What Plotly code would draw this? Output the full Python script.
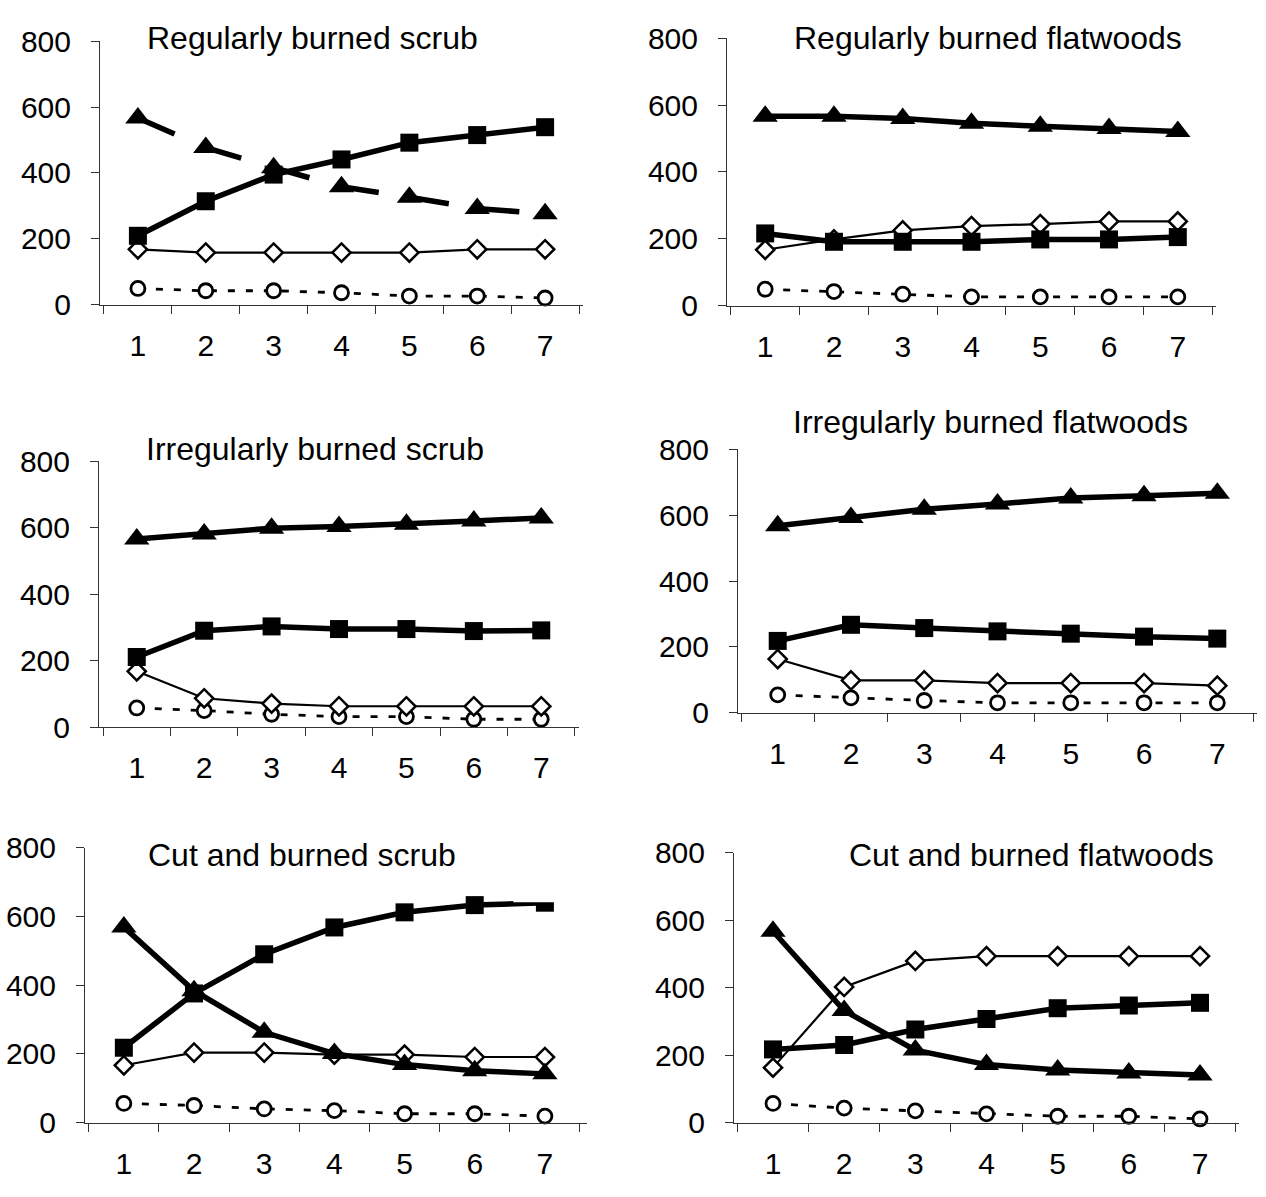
import plotly.graph_objects as go

# Years since treatment (category axis)
years = ["1", "2", "3", "4", "5", "6", "7"]
y_ticks = [0, 200, 400, 600, 800]

titles = [
    "Regularly burned scrub",
    "Regularly burned flatwoods",
    "Irregularly burned scrub",
    "Irregularly burned flatwoods",
    "Cut and burned scrub",
    "Cut and burned flatwoods",
]

# Regularly burned scrub
rb_scrub_square = [209, 314, 395, 441, 492, 515, 539]
rb_scrub_triangle = [567, 477, 416, 358, 326, 292, 276]
rb_scrub_diamond = [168, 158, 158, 158, 158, 168, 168]
rb_scrub_circle = [49, 42, 42, 36, 26, 26, 20]

# Regularly burned flatwoods
rb_flat_square = [216, 191, 191, 191, 198, 198, 205]
rb_flat_triangle = [567, 567, 560, 546, 537, 530, 521]
rb_flat_diamond = [167, 198, 225, 238, 244, 252, 252]
rb_flat_circle = [49, 42, 34, 26, 26, 26, 26]

# Irregularly burned scrub
ib_scrub_square = [211, 290, 303, 295, 295, 289, 291]
ib_scrub_triangle = [566, 581, 598, 603, 610, 620, 629]
ib_scrub_diamond = [168, 87, 71, 63, 63, 63, 63]
ib_scrub_circle = [58, 50, 39, 32, 32, 24, 24]

# Irregularly burned flatwoods
ib_flat_square = [218, 267, 257, 247, 240, 231, 225]
ib_flat_triangle = [568, 593, 618, 634, 652, 659, 667]
ib_flat_diamond = [163, 98, 98, 90, 90, 90, 82]
ib_flat_circle = [54, 45, 37, 30, 30, 30, 30]

# Cut and burned scrub
cb_scrub_square = [218, 376, 490, 568, 612, 633, 640]
cb_scrub_triangle = [569, 384, 263, 201, 169, 151, 142]
cb_scrub_diamond = [167, 204, 204, 198, 198, 191, 191]
cb_scrub_circle = [56, 50, 40, 35, 26, 26, 19]

# Cut and burned flatwoods
cb_flat_square = [217, 230, 276, 307, 339, 347, 355]
cb_flat_triangle = [567, 332, 215, 172, 156, 147, 141]
cb_flat_diamond = [163, 402, 479, 493, 493, 493, 493]
cb_flat_circle = [57, 43, 35, 26, 19, 19, 11]

panels = [
    (rb_scrub_square, rb_scrub_triangle, rb_scrub_diamond, rb_scrub_circle),
    (rb_flat_square, rb_flat_triangle, rb_flat_diamond, rb_flat_circle),
    (ib_scrub_square, ib_scrub_triangle, ib_scrub_diamond, ib_scrub_circle),
    (ib_flat_square, ib_flat_triangle, ib_flat_diamond, ib_flat_circle),
    (cb_scrub_square, cb_scrub_triangle, cb_scrub_diamond, cb_scrub_circle),
    (cb_flat_square, cb_flat_triangle, cb_flat_diamond, cb_flat_circle),
]

W, H = 1266, 1197
FONT = "Liberation Sans, Arial, sans-serif"

# plot-area boxes in pixels: (left, right, top, bottom)
boxes = [
    (100, 583, 25, 296),
    (727, 1216, 22, 297),
    (99, 579, 457, 731),
    (738, 1257, 445, 716),
    (85, 587, 855, 1138),
    (734, 1239, 860, 1138),
]
# title centres in pixels
title_pos = [(312, 22), (988, 22), (315, 445), (990, 417), (302, 863), (1031, 863)]

fig = go.Figure()

for i, (sq, tri, dia, cir) in enumerate(panels):
    n = i + 1
    xa = "x" if n == 1 else f"x{n}"
    ya = "y" if n == 1 else f"y{n}"

    fig.add_trace(go.Scatter(
        x=years, y=cir, xaxis=xa, yaxis=ya, mode="lines+markers",
        line=dict(color="black", width=2.8, dash="7px,11px"),
        marker=dict(symbol="circle", size=14, color="white",
                    line=dict(color="black", width=2.8)),
        cliponaxis=False, showlegend=False))
    fig.add_trace(go.Scatter(
        x=years, y=dia, xaxis=xa, yaxis=ya, mode="lines+markers",
        line=dict(color="black", width=2.2),
        marker=dict(symbol="diamond", size=14, color="white",
                    line=dict(color="black", width=2.5)),
        cliponaxis=False, showlegend=False))
    fig.add_trace(go.Scatter(
        x=years, y=sq, xaxis=xa, yaxis=ya, mode="lines+markers",
        line=dict(color="black", width=5.5),
        marker=dict(symbol="square", size=18, color="black"),
        cliponaxis=False, showlegend=False))
    fig.add_trace(go.Scatter(
        x=years, y=tri, xaxis=xa, yaxis=ya, mode="lines+markers",
        line=dict(color="black", width=5.5,
                  dash="40px,31px" if n == 1 else "solid"),
        marker=dict(symbol="triangle-up", size=22, color="black"),
        cliponaxis=False, showlegend=False))

    l, r, t, b = boxes[i]
    fig.layout[f"xaxis{'' if n == 1 else n}"] = dict(
        domain=[l / W, r / W], anchor=ya, type="category",
        tickson="boundaries", ticks="outside", ticklen=8, tickwidth=1,
        tickcolor="#333", showline=True, linecolor="#333", linewidth=1,
        showgrid=False, zeroline=False, ticklabelstandoff=14,
        tickfont=dict(family=FONT, size=30, color="black"),
        fixedrange=True)
    fig.layout[f"yaxis{'' if n == 1 else n}"] = dict(
        domain=[1 - b / H, 1 - t / H], anchor=xa, range=[0, 800],
        tickvals=y_ticks, ticks="outside", ticklen=8, tickwidth=1,
        tickcolor="#333", showline=True, linecolor="#333", linewidth=1,
        showgrid=False, zeroline=False, ticklabelstandoff=14,
        tickfont=dict(family=FONT, size=30, color="black"),
        fixedrange=True)

    tx, ty = title_pos[i]
    fig.add_annotation(
        text=titles[i], x=tx / W, y=1 - ty / H, xref="paper", yref="paper",
        xanchor="center", yanchor="middle", showarrow=False,
        font=dict(family=FONT, size=32, color="black"))

# white-filled title box of the cut-and-burned scrub chart hides the top of the last point
fig.add_shape(type="rect", xref="x5", yref="y5", x0=5.55, x1=6.6, y0=641, y1=800,
              fillcolor="white", line=dict(width=0), layer="above")

fig.update_layout(
    width=W, height=H, autosize=False,
    margin=dict(l=0, r=0, t=0, b=0),
    paper_bgcolor="white", plot_bgcolor="white",
    font=dict(family=FONT, color="black"),
    showlegend=False,
)

fig.write_html("out.html")
